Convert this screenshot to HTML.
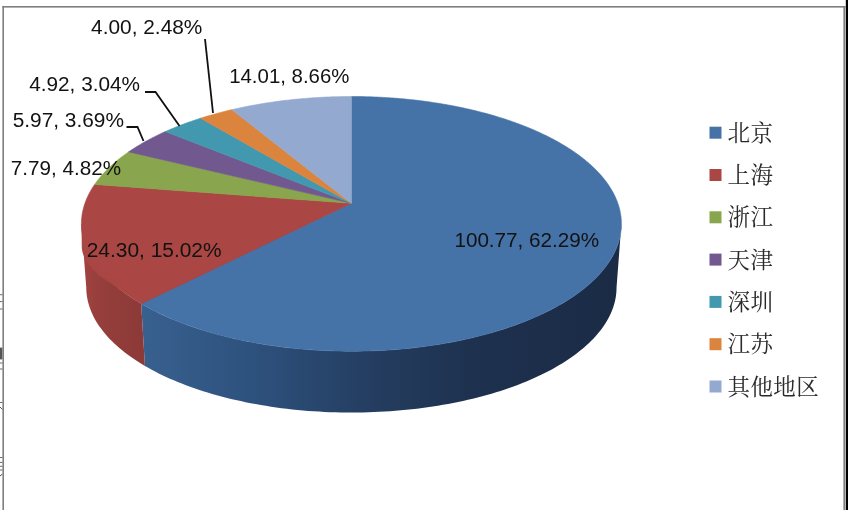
<!DOCTYPE html>
<html lang="zh"><head><meta charset="utf-8"><title>chart</title>
<style>html,body{margin:0;padding:0;background:#fff;}body{width:848px;height:510px;overflow:hidden}svg{display:block}</style>
</head><body>
<svg width="848" height="510" viewBox="0 0 848 510">
<defs>
<linearGradient id="gb" gradientUnits="userSpaceOnUse" x1="143" y1="0" x2="620" y2="0">
<stop offset="0" stop-color="#38608F"/><stop offset="0.22" stop-color="#2E527E"/><stop offset="0.48" stop-color="#243D60"/><stop offset="0.72" stop-color="#1D304D"/><stop offset="1" stop-color="#1B2B46"/>
</linearGradient>
<linearGradient id="gr" gradientUnits="userSpaceOnUse" x1="82" y1="0" x2="146" y2="0">
<stop offset="0" stop-color="#A24341"/><stop offset="0.25" stop-color="#963F3C"/><stop offset="1" stop-color="#8B3937"/>
</linearGradient>
</defs>
<polygon points="621.40,223.86 621.36,226.13 621.23,228.41 621.01,230.69 620.71,232.98 620.31,235.27 619.83,237.57 619.26,239.86 618.60,242.16 617.84,244.46 617.00,246.76 616.06,249.05 615.03,251.35 613.91,253.64 612.70,255.93 611.39,258.21 609.99,260.49 608.49,262.76 606.90,265.02 605.22,267.28 603.44,269.53 601.57,271.76 599.60,273.99 597.54,276.20 595.39,278.40 593.14,280.58 590.79,282.76 588.35,284.91 585.82,287.05 583.20,289.17 580.48,291.27 577.67,293.35 574.76,295.40 571.77,297.44 568.69,299.46 565.51,301.44 562.25,303.41 558.89,305.35 555.45,307.26 551.93,309.14 548.31,310.99 544.61,312.82 540.83,314.61 536.97,316.37 533.02,318.09 529.00,319.78 524.89,321.44 520.71,323.06 516.46,324.64 512.12,326.19 507.72,327.70 503.25,329.16 498.70,330.59 494.09,331.98 489.41,333.32 484.67,334.62 479.87,335.87 475.01,337.08 470.09,338.25 465.11,339.37 460.08,340.44 455.00,341.46 449.87,342.44 444.69,343.37 439.47,344.25 434.21,345.08 428.91,345.85 423.57,346.58 418.19,347.25 412.78,347.88 407.35,348.45 401.88,348.97 396.39,349.43 390.88,349.84 385.36,350.20 379.81,350.51 374.25,350.76 368.68,350.95 363.10,351.09 357.52,351.18 351.93,351.21 346.34,351.19 340.75,351.11 335.17,350.98 329.60,350.80 324.04,350.56 318.49,350.26 312.96,349.92 307.44,349.51 301.95,349.06 296.48,348.55 291.04,347.99 285.63,347.38 280.25,346.71 274.90,345.99 269.59,345.23 264.32,344.41 259.09,343.54 253.90,342.62 248.77,341.65 243.68,340.64 238.64,339.57 233.65,338.46 228.72,337.31 223.85,336.10 219.03,334.86 214.28,333.57 209.59,332.23 204.96,330.86 200.41,329.44 195.92,327.98 191.50,326.48 187.16,324.94 182.89,323.36 178.69,321.75 174.57,320.10 170.53,318.41 166.57,316.69 162.69,314.94 158.89,313.16 155.18,311.34 151.55,309.49 148.01,307.61 144.55,305.71 141.18,303.78 144.96,365.97 148.27,367.87 151.67,369.74 155.15,371.58 158.71,373.39 162.36,375.18 166.09,376.93 169.90,378.65 173.79,380.34 177.75,382.00 181.80,383.62 185.92,385.20 190.11,386.75 194.38,388.26 198.72,389.73 203.13,391.17 207.60,392.56 212.14,393.91 216.75,395.22 221.41,396.49 226.14,397.71 230.93,398.89 235.77,400.03 240.67,401.12 245.61,402.17 250.61,403.16 255.66,404.11 260.75,405.01 265.89,405.87 271.06,406.67 276.28,407.43 281.53,408.13 286.81,408.78 292.13,409.39 297.47,409.94 302.84,410.44 308.24,410.88 313.65,411.28 319.08,411.62 324.53,411.91 329.99,412.14 335.47,412.32 340.95,412.45 346.43,412.53 351.92,412.55 357.41,412.52 362.89,412.43 368.37,412.29 373.84,412.10 379.30,411.86 384.74,411.56 390.17,411.21 395.58,410.80 400.97,410.35 406.34,409.84 411.68,409.28 416.99,408.66 422.27,408.00 427.51,407.29 432.72,406.52 437.89,405.71 443.01,404.85 448.10,403.94 453.13,402.98 458.12,401.97 463.06,400.92 467.95,399.82 472.78,398.68 477.56,397.49 482.27,396.25 486.93,394.98 491.52,393.66 496.05,392.30 500.51,390.90 504.91,389.46 509.23,387.98 513.48,386.46 517.66,384.91 521.77,383.31 525.80,381.69 529.75,380.03 533.63,378.33 537.42,376.60 541.14,374.84 544.77,373.05 548.32,371.23 551.78,369.39 555.16,367.51 558.45,365.61 561.66,363.68 564.77,361.72 567.80,359.75 570.74,357.75 573.59,355.73 576.35,353.68 579.02,351.62 581.60,349.54 584.09,347.44 586.48,345.32 588.78,343.19 590.99,341.05 593.11,338.89 595.14,336.71 597.07,334.53 598.91,332.33 600.65,330.13 602.31,327.91 603.87,325.69 605.33,323.46 606.71,321.22 608.00,318.98 609.19,316.73 610.29,314.48 611.30,312.23 612.22,309.97 613.05,307.72 613.79,305.46 614.44,303.20 615.00,300.95 615.47,298.70 615.86,296.44 616.16,294.20 616.37,291.96 616.50,289.72 616.54,287.49" fill="url(#gb)"/>
<polygon points="141.18,303.78 137.88,301.81 134.67,299.81 131.56,297.79 128.53,295.75 125.60,293.68 122.76,291.59 120.01,289.49 117.36,287.36 114.80,285.21 112.34,283.05 109.97,280.87 107.69,278.68 105.51,276.47 103.43,274.24 101.44,272.01 99.55,269.76 97.75,267.50 96.05,265.24 94.44,262.96 92.93,260.68 91.52,258.39 90.19,256.10 88.97,253.80 87.83,251.49 86.79,249.19 85.85,246.88 84.99,244.57 84.23,242.26 83.56,239.95 82.99,237.64 82.50,235.33 82.10,233.03 81.79,230.73 81.57,228.43 81.44,226.14 81.40,223.86 86.26,287.49 86.30,289.73 86.43,291.98 86.65,294.23 86.95,296.49 87.34,298.75 87.82,301.02 88.38,303.29 89.04,305.55 89.79,307.82 90.63,310.09 91.56,312.36 92.58,314.62 93.69,316.89 94.90,319.14 96.19,321.40 97.58,323.65 99.07,325.89 100.65,328.12 102.32,330.35 104.08,332.56 105.94,334.77 107.89,336.97 109.94,339.15 112.08,341.32 114.31,343.47 116.64,345.61 119.06,347.74 121.57,349.85 124.18,351.94 126.87,354.01 129.66,356.06 132.54,358.08 135.51,360.09 138.58,362.07 141.73,364.03 144.96,365.97" fill="url(#gr)"/>
<path d="M81.5,224 L81.8,248 Q83,262 99.5,276 Q120,289 143,304.6 L351,203 Z" fill="#A94643"/>
<polygon points="351.40,203.30 351.40,96.50 353.40,96.50 355.41,96.51 357.41,96.53 359.42,96.55 361.42,96.59 363.42,96.62 365.43,96.67 367.43,96.72 369.43,96.78 371.43,96.85 373.43,96.92 375.43,97.00 377.42,97.09 379.42,97.19 381.41,97.29 383.41,97.40 385.40,97.51 387.39,97.63 389.38,97.76 391.37,97.90 393.35,98.04 395.34,98.20 397.32,98.35 399.30,98.52 401.28,98.69 403.25,98.87 405.22,99.05 407.19,99.25 409.16,99.45 411.13,99.65 413.09,99.87 415.05,100.09 417.01,100.31 418.96,100.55 420.91,100.79 422.86,101.04 424.80,101.29 426.75,101.56 428.68,101.83 430.62,102.10 432.55,102.39 434.47,102.68 436.40,102.97 438.32,103.28 440.23,103.59 442.14,103.91 444.05,104.23 445.95,104.56 447.85,104.90 449.74,105.25 451.63,105.60 453.52,105.96 455.40,106.32 457.27,106.70 459.14,107.08 461.01,107.46 462.86,107.86 464.72,108.26 466.57,108.67 468.41,109.08 470.25,109.50 472.08,109.93 473.91,110.36 475.73,110.80 477.54,111.25 479.35,111.71 481.15,112.17 482.95,112.64 484.74,113.11 486.52,113.59 488.30,114.08 490.07,114.58 491.83,115.08 493.59,115.59 495.34,116.11 497.08,116.63 498.82,117.16 500.55,117.69 502.27,118.23 503.98,118.78 505.69,119.34 507.38,119.90 509.07,120.47 510.75,121.05 512.43,121.63 514.09,122.22 515.75,122.81 517.40,123.41 519.04,124.02 520.67,124.64 522.30,125.26 523.91,125.88 525.52,126.52 527.12,127.16 528.70,127.81 530.28,128.46 531.85,129.12 533.41,129.79 534.96,130.46 536.50,131.14 538.03,131.82 539.55,132.51 541.06,133.21 542.56,133.92 544.05,134.63 545.53,135.34 547.00,136.07 548.46,136.79 549.91,137.53 551.35,138.27 552.77,139.02 554.19,139.77 555.59,140.53 556.99,141.30 558.37,142.07 559.74,142.85 561.10,143.63 562.44,144.42 563.78,145.21 565.10,146.02 566.41,146.82 567.71,147.64 569.00,148.46 570.27,149.28 571.53,150.11 572.78,150.95 574.01,151.79 575.24,152.64 576.45,153.49 577.64,154.35 578.83,155.21 579.99,156.08 581.15,156.96 582.29,157.84 583.42,158.72 584.54,159.62 585.64,160.51 586.72,161.41 587.79,162.32 588.85,163.23 589.89,164.15 590.92,165.08 591.94,166.00 592.94,166.94 593.92,167.88 594.89,168.82 595.84,169.77 596.78,170.72 597.70,171.68 598.61,172.64 599.50,173.61 600.37,174.58 601.23,175.56 602.07,176.54 602.90,177.53 603.71,178.52 604.51,179.51 605.28,180.51 606.04,181.52 606.79,182.52 607.51,183.54 608.22,184.55 608.91,185.57 609.59,186.60 610.25,187.63 610.89,188.66 611.51,189.70 612.11,190.74 612.70,191.78 613.27,192.83 613.82,193.89 614.35,194.94 614.86,196.00 615.36,197.06 615.83,198.13 616.29,199.20 616.73,200.27 617.15,201.35 617.55,202.43 617.93,203.51 618.30,204.60 618.64,205.69 618.96,206.78 619.27,207.87 619.55,208.97 619.81,210.07 620.06,211.17 620.28,212.28 620.49,213.38 620.67,214.49 620.83,215.61 620.98,216.72 621.10,217.84 621.20,218.96 621.28,220.08 621.34,221.20 621.38,222.32 621.40,223.45 621.40,224.58 621.37,225.71 621.33,226.84 621.26,227.97 621.17,229.10 621.06,230.24 620.93,231.37 620.78,232.51 620.60,233.65 620.40,234.79 620.18,235.92 619.94,237.06 619.68,238.20 619.40,239.35 619.09,240.49 618.76,241.63 618.41,242.77 618.03,243.91 617.63,245.05 617.21,246.19 616.77,247.34 616.31,248.48 615.82,249.62 615.31,250.76 614.77,251.90 614.22,253.03 613.64,254.17 613.04,255.31 612.41,256.44 611.76,257.58 611.09,258.71 610.40,259.84 609.68,260.97 608.94,262.10 608.17,263.23 607.39,264.35 606.58,265.47 605.74,266.60 604.89,267.71 604.00,268.83 603.10,269.94 602.17,271.05 601.22,272.16 600.25,273.27 599.25,274.37 598.23,275.47 597.19,276.57 596.12,277.66 595.03,278.75 593.92,279.84 592.78,280.92 591.62,282.00 590.44,283.07 589.23,284.14 588.00,285.21 586.75,286.27 585.47,287.33 584.18,288.39 582.85,289.43 581.51,290.48 580.14,291.52 578.75,292.55 577.34,293.58 575.90,294.61 574.45,295.63 572.97,296.64 571.46,297.65 569.94,298.65 568.39,299.64 566.82,300.63 565.23,301.62 563.61,302.60 561.98,303.57 560.32,304.53 558.64,305.49 556.94,306.44 555.21,307.39 553.47,308.32 551.71,309.25 549.92,310.18 548.11,311.09 546.28,312.00 544.43,312.90 542.56,313.80 540.67,314.68 538.76,315.56 536.83,316.43 534.88,317.29 532.91,318.14 530.92,318.99 528.91,319.82 526.88,320.65 524.83,321.47 522.76,322.28 520.67,323.08 518.57,323.87 516.44,324.65 514.30,325.42 512.14,326.18 509.96,326.94 507.77,327.68 505.55,328.42 503.32,329.14 501.08,329.85 498.81,330.56 496.53,331.25 494.23,331.93 491.92,332.61 489.59,333.27 487.24,333.92 484.88,334.56 482.50,335.19 480.11,335.81 477.70,336.42 475.28,337.02 472.85,337.60 470.40,338.18 467.94,338.74 465.46,339.29 462.97,339.83 460.47,340.36 457.95,340.88 455.42,341.38 452.88,341.87 450.33,342.36 447.77,342.83 445.19,343.28 442.61,343.73 440.01,344.16 437.40,344.58 434.79,344.99 432.16,345.38 429.52,345.77 426.88,346.14 424.22,346.49 421.56,346.84 418.89,347.17 416.21,347.49 413.52,347.80 410.82,348.09 408.12,348.37 405.41,348.64 402.70,348.89 399.98,349.14 397.25,349.36 394.52,349.58 391.78,349.78 389.03,349.97 386.29,350.15 383.54,350.31 380.78,350.46 378.02,350.59 375.26,350.71 372.50,350.82 369.73,350.92 366.96,351.00 364.19,351.07 361.41,351.13 358.64,351.17 355.86,351.20 353.09,351.21 350.31,351.21 347.54,351.20 344.76,351.17 341.99,351.14 339.21,351.08 336.44,351.02 333.67,350.94 330.90,350.85 328.14,350.74 325.38,350.62 322.62,350.49 319.86,350.34 317.11,350.18 314.36,350.01 311.62,349.82 308.88,349.62 306.14,349.41 303.41,349.19 300.69,348.95 297.98,348.70 295.27,348.43 292.56,348.15 289.87,347.86 287.18,347.56 284.49,347.24 281.82,346.91 279.16,346.57 276.50,346.21 273.85,345.85 271.21,345.47 268.58,345.07 265.96,344.67 263.35,344.25 260.76,343.82 258.17,343.38 255.59,342.93 253.02,342.46 250.47,341.98 247.93,341.49 245.40,340.99 242.88,340.47 240.37,339.95 237.88,339.41 235.40,338.86 232.93,338.30 230.48,337.73 228.04,337.14 225.62,336.55 223.21,335.94 220.81,335.33 218.43,334.70 216.07,334.06 213.72,333.41 211.39,332.75 209.07,332.08 206.77,331.40 204.48,330.71 202.21,330.01 199.96,329.29 197.73,328.57 195.51,327.84 193.31,327.10 191.13,326.35 188.96,325.59 186.82,324.82 184.69,324.04 182.58,323.25 180.49,322.45 178.42,321.64 176.36,320.83 174.33,320.00 172.32,319.17 170.32,318.32 168.35,317.47 166.39,316.61 164.46,315.75 162.54,314.87 160.64,313.99 158.77,313.10 156.92,312.20 155.08,311.29 153.27,310.38 151.48,309.45 149.71,308.53 147.96,307.59 146.23,306.65 144.53,305.70 142.84,304.74 141.18,303.78" fill="#4572A7" stroke="#4572A7" stroke-width="0.6" stroke-linejoin="round"/>
<polygon points="351.40,203.30 141.18,303.78 139.53,302.80 137.91,301.82 136.31,300.84 134.73,299.85 133.17,298.85 131.64,297.84 130.12,296.83 128.63,295.82 127.17,294.80 125.72,293.77 124.30,292.74 122.90,291.70 121.53,290.66 120.17,289.61 118.84,288.56 117.54,287.51 116.25,286.44 114.99,285.38 113.76,284.31 112.54,283.24 111.35,282.16 110.19,281.08 109.04,279.99 107.92,278.90 106.82,277.81 105.75,276.71 104.70,275.61 103.67,274.51 102.67,273.40 101.69,272.29 100.73,271.18 99.80,270.07 98.89,268.95 98.01,267.83 97.14,266.71 96.31,265.59 95.49,264.46 94.70,263.33 93.93,262.20 93.18,261.07 92.46,259.94 91.76,258.80 91.09,257.66 90.44,256.53 89.81,255.39 89.20,254.25 88.62,253.11 88.06,251.96 87.52,250.82 87.01,249.68 86.52,248.53 86.05,247.39 85.60,246.24 85.18,245.10 84.78,243.95 84.41,242.81 84.05,241.66 83.72,240.52 83.41,239.37 83.13,238.23 82.86,237.08 82.62,235.94 82.40,234.80 82.20,233.66 82.02,232.52 81.87,231.37 81.74,230.24 81.63,229.10 81.54,227.96 81.47,226.82 81.43,225.69 81.40,224.56 81.40,223.43 81.42,222.30 81.46,221.17 81.52,220.04 81.60,218.92 81.71,217.80 81.83,216.68 81.97,215.56 82.14,214.44 82.32,213.33 82.53,212.22 82.76,211.11 83.00,210.00 83.27,208.90 83.55,207.80 83.86,206.70 84.19,205.61 84.53,204.52 84.90,203.43 85.28,202.34 85.68,201.26 86.11,200.18 86.55,199.10 87.01,198.03 87.49,196.96 87.99,195.89 88.51,194.83 89.04,193.77 89.59,192.72 90.17,191.66 90.76,190.62 91.37,189.57 91.99,188.53 92.64,187.50 93.30,186.46 93.98,185.44 94.67,184.41" fill="#AA4643" stroke="#AA4643" stroke-width="0.6" stroke-linejoin="round"/>
<polygon points="351.40,203.30 94.67,184.41 95.40,183.38 96.15,182.34 96.91,181.31 97.69,180.29 98.49,179.27 99.30,178.25 100.14,177.24 100.98,176.23 101.85,175.23 102.73,174.24 103.63,173.25 104.55,172.26 105.48,171.28 106.43,170.30 107.40,169.33 108.38,168.36 109.37,167.40 110.39,166.45 111.42,165.50 112.46,164.55 113.52,163.61 114.59,162.68 115.68,161.75 116.79,160.82 117.91,159.91 119.04,158.99 120.19,158.09 121.35,157.18 122.53,156.29 123.72,155.40 124.93,154.52 126.15,153.64 127.38,152.76 128.63,151.90" fill="#89A54E" stroke="#89A54E" stroke-width="0.6" stroke-linejoin="round"/>
<polygon points="351.40,203.30 128.63,151.90 129.88,151.04 131.15,150.19 132.43,149.35 133.72,148.51 135.03,147.67 136.35,146.85 137.68,146.03 139.03,145.21 140.39,144.40 141.76,143.60 143.14,142.80 144.53,142.01 145.94,141.23 147.35,140.45 148.78,139.68 150.22,138.91 151.68,138.15 153.14,137.40 154.61,136.66 156.10,135.92 157.60,135.18 159.10,134.45 160.62,133.73 162.15,133.02 163.69,132.31 165.24,131.61" fill="#71588F" stroke="#71588F" stroke-width="0.6" stroke-linejoin="round"/>
<polygon points="351.40,203.30 165.24,131.61 166.82,130.90 168.42,130.21 170.02,129.51 171.64,128.83 173.26,128.15 174.90,127.48 176.54,126.81 178.20,126.16 179.86,125.50 181.54,124.86 183.22,124.22 184.91,123.59 186.61,122.97 188.32,122.35 190.04,121.74 191.77,121.14 193.50,120.55 195.25,119.96 197.00,119.38 198.76,118.80 200.53,118.24" fill="#4198AF" stroke="#4198AF" stroke-width="0.6" stroke-linejoin="round"/>
<polygon points="351.40,203.30 200.53,118.24 202.32,117.67 204.11,117.12 205.91,116.57 207.72,116.03 209.54,115.49 211.36,114.97 213.19,114.45 215.03,113.94 216.88,113.43 218.73,112.93 220.59,112.44 222.46,111.96 224.33,111.48 226.21,111.02 228.10,110.55 229.99,110.10 231.89,109.65" fill="#DB843D" stroke="#DB843D" stroke-width="0.6" stroke-linejoin="round"/>
<polygon points="351.40,203.30 231.89,109.65 233.74,109.23 235.59,108.81 237.45,108.40 239.31,107.99 241.18,107.59 243.05,107.20 244.93,106.82 246.82,106.44 248.71,106.07 250.60,105.71 252.50,105.35 254.40,105.00 256.31,104.66 258.22,104.32 260.14,103.99 262.06,103.67 263.99,103.36 265.91,103.05 267.85,102.75 269.79,102.46 271.73,102.17 273.67,101.89 275.62,101.62 277.57,101.35 279.53,101.09 281.49,100.84 283.45,100.60 285.41,100.36 287.38,100.13 289.35,99.91 291.32,99.69 293.30,99.48 295.28,99.28 297.26,99.08 299.25,98.90 301.23,98.72 303.22,98.54 305.21,98.38 307.21,98.22 309.20,98.06 311.20,97.92 313.20,97.78 315.20,97.65 317.20,97.52 319.20,97.41 321.21,97.30 323.22,97.19 325.22,97.10 327.23,97.01 329.24,96.93 331.25,96.85 333.27,96.79 335.28,96.73 337.29,96.67 339.31,96.63 341.32,96.59 343.34,96.55 345.35,96.53 347.37,96.51 349.38,96.50 351.40,96.50" fill="#93A9CF" stroke="#93A9CF" stroke-width="0.6" stroke-linejoin="round"/>
<g fill="none" stroke="#111" stroke-width="1.8" stroke-linejoin="miter">
<polyline points="205,39 213,113"/>
<polyline points="145,92 155.5,92 179.5,126"/>
<polyline points="126.5,127 137.5,127 143.5,141"/>
</g>
<g font-family="'Liberation Sans', sans-serif" font-size="19.3" fill="#121212">
<text x="454.4" y="246.8" textLength="144.8" lengthAdjust="spacingAndGlyphs">100.77, 62.29%</text>
<text x="86.7" y="256.5" textLength="134.9" lengthAdjust="spacingAndGlyphs">24.30, 15.02%</text>
<text x="10.8" y="175" textLength="110.2" lengthAdjust="spacingAndGlyphs">7.79, 4.82%</text>
<text x="12.7" y="126.7" textLength="111.3" lengthAdjust="spacingAndGlyphs">5.97, 3.69%</text>
<text x="29.2" y="91.3" textLength="110.9" lengthAdjust="spacingAndGlyphs">4.92, 3.04%</text>
<text x="91.1" y="33.9" textLength="111.3" lengthAdjust="spacingAndGlyphs">4.00, 2.48%</text>
<text x="229.2" y="83" textLength="120.2" lengthAdjust="spacingAndGlyphs">14.01, 8.66%</text>
</g>
<g font-family="'Liberation Serif', 'Noto Serif CJK SC', serif" font-size="22.5" fill="#2a2a2a">
<rect x="709.5" y="126.69999999999999" width="12" height="12" fill="#4572A7"/>
<text x="727.5" y="140.7" textLength="45.6" lengthAdjust="spacing">北京</text>
<rect x="709.5" y="169.0" width="12" height="12" fill="#AA4643"/>
<text x="727.5" y="183.0" textLength="45.6" lengthAdjust="spacing">上海</text>
<rect x="709.5" y="211.29999999999998" width="12" height="12" fill="#89A54E"/>
<text x="727.5" y="225.29999999999998" textLength="45.6" lengthAdjust="spacing">浙江</text>
<rect x="709.5" y="253.59999999999997" width="12" height="12" fill="#71588F"/>
<text x="727.5" y="267.59999999999997" textLength="45.6" lengthAdjust="spacing">天津</text>
<rect x="709.5" y="295.9" width="12" height="12" fill="#4198AF"/>
<text x="727.5" y="309.9" textLength="45.6" lengthAdjust="spacing">深圳</text>
<rect x="709.5" y="338.2" width="12" height="12" fill="#DB843D"/>
<text x="727.5" y="352.2" textLength="45.6" lengthAdjust="spacing">江苏</text>
<rect x="709.5" y="380.5" width="12" height="12" fill="#93A9CF"/>
<text x="727.5" y="394.5" textLength="91.2" lengthAdjust="spacing">其他地区</text>
</g>
<g fill="#6a6a6a">
<rect x="0" y="294.2" width="2.6" height="1"/>
<rect x="0" y="301.1" width="2.6" height="1"/>
<rect x="0" y="308.5" width="2.6" height="1"/>
<rect x="0" y="362.5" width="2.6" height="1"/>
<rect x="0" y="368.5" width="2.6" height="1"/>
<rect x="0" y="402.0" width="2.6" height="1"/>
<rect x="0" y="457.0" width="2.6" height="1"/>
<rect x="0" y="461.9" width="2.6" height="1"/>
<rect x="0" y="465.8" width="2.6" height="1"/>
<rect x="0" y="469.5" width="2.6" height="1"/>
<rect x="0" y="347.6" width="2.4" height="11.8" fill="#555"/>
<path d="M0,407 L2.5,409.5 M0,476 L2.5,474" stroke="#555" stroke-width="1" fill="none"/>
</g>
<rect x="2.4" y="6" width="843" height="1.6" fill="#7f7f7f"/>
<rect x="2.4" y="6" width="1.6" height="504" fill="#7f7f7f"/>
<rect x="843.4" y="6" width="1.8" height="504" fill="#7f7f7f"/>
<rect x="845.8" y="0" width="2.2" height="510" fill="#000"/>
</svg>
</body></html>
